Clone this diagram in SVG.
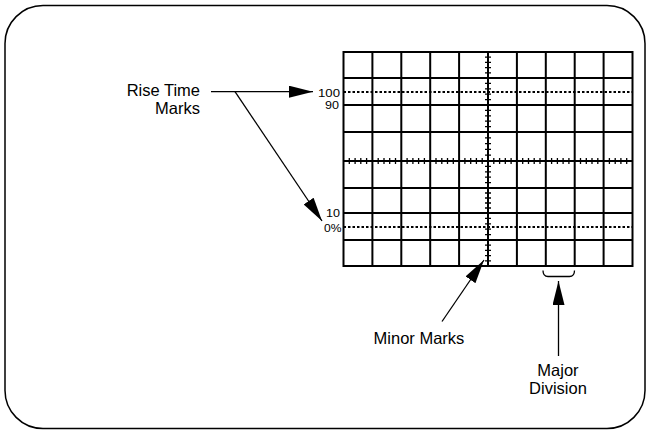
<svg xmlns="http://www.w3.org/2000/svg" width="647" height="432" viewBox="0 0 647 432">
<style>
.grid{stroke:#000;stroke-width:2;fill:none}
.dot{stroke:#000;stroke-width:2;stroke-dasharray:2.5 2;fill:none}
.tick{stroke:#000;stroke-width:1.3}
.con{stroke:#000;stroke-width:1.3;fill:none}
.lbl{font-family:"Liberation Sans",Arial,sans-serif;font-size:16.5px;fill:#000}
.sm{font-family:"Liberation Sans",Arial,sans-serif;font-size:10.5px;fill:#000}
</style>
<defs>
<marker id="ahL" viewBox="0 0 24 12" refX="24" refY="6" markerWidth="24" markerHeight="12" markerUnits="userSpaceOnUse" orient="auto">
<path d="M0,0 L24,6 L0,12 Z" fill="#000"/>
</marker>
</defs>
<rect x="5" y="5.5" width="640" height="423" rx="38" ry="38" fill="#fff" stroke="#000" stroke-width="1.5"/>
<g id="graticule">
<rect class="grid" x="343.5" y="52" width="289" height="214" stroke-width="2.2"/>
<path class="grid" d="M372.4,52V266M401.3,52V266M430.2,52V266M459.1,52V266M488,52V266M516.9,52V266M545.8,52V266M574.7,52V266M603.6,52V266"/>
<path class="grid" d="M343.5,78H632.5M343.5,105H632.5M343.5,132H632.5M343.5,161H632.5M343.5,188H632.5M343.5,213H632.5M343.5,240H632.5"/>
<path class="dot" d="M343.5,92H632.5M343.5,227H632.5"/>
<path class="tick" d="M349.3,158V164M355.1,158V164M360.8,158V164M366.6,158V164M378.2,158V164M384,158V164M389.7,158V164M395.5,158V164M407.1,158V164M412.9,158V164M418.6,158V164M424.4,158V164M436,158V164M441.8,158V164M447.5,158V164M453.3,158V164M464.9,158V164M470.7,158V164M476.4,158V164M482.2,158V164M493.8,158V164M499.6,158V164M505.3,158V164M511.1,158V164M522.7,158V164M528.5,158V164M534.2,158V164M540,158V164M551.6,158V164M557.4,158V164M563.1,158V164M568.9,158V164M580.5,158V164M586.3,158V164M592,158V164M597.8,158V164M609.4,158V164M615.2,158V164M620.9,158V164M626.7,158V164"/>
<path class="tick" d="M485,57.2H491M485,62.4H491M485,67.6H491M485,72.8H491M485,83.4H491M485,88.8H491M485,94.2H491M485,99.6H491M485,110.4H491M485,115.8H491M485,121.2H491M485,126.6H491M485,137.8H491M485,143.6H491M485,149.4H491M485,155.2H491M485,166.4H491M485,171.8H491M485,177.2H491M485,182.6H491M485,193H491M485,198H491M485,203H491M485,208H491M485,218.4H491M485,223.8H491M485,229.2H491M485,234.6H491M485,245.2H491M485,250.4H491M485,255.6H491M485,260.8H491"/>
<text class="sm" x="318" y="96.5" textLength="22" lengthAdjust="spacingAndGlyphs">100</text>
<text class="sm" x="325" y="108.5" textLength="14" lengthAdjust="spacingAndGlyphs">90</text>
<text class="sm" x="326" y="217" textLength="14" lengthAdjust="spacingAndGlyphs">10</text>
<text class="sm" x="324" y="231.5" textLength="17.5" lengthAdjust="spacingAndGlyphs">0%</text>
</g>
<g id="rise-time-marks">
<text class="lbl" x="200" y="96" text-anchor="end">Rise Time</text>
<text class="lbl" x="200" y="114" text-anchor="end">Marks</text>
</g>
<g id="minor-marks">
<text class="lbl" x="419" y="344" text-anchor="middle">Minor Marks</text>
</g>
<g id="major-division">
<path class="con" d="M543,270.5 Q543,276.5 548,276.5 H569.5 Q574.5,276.5 574.5,270.5" stroke-width="1.5"/>
<text class="lbl" x="558" y="376" text-anchor="middle">Major</text>
<text class="lbl" x="558" y="394" text-anchor="middle">Division</text>
</g>
<g id="connectors">
<path class="con" d="M211,91.7H313" marker-end="url(#ahL)"/>
<path class="con" d="M235,91.7L322,221" marker-end="url(#ahL)"/>
<path class="con" d="M442,321.5L484,260" marker-end="url(#ahL)"/>
<path class="con" d="M558.5,356V281" marker-end="url(#ahL)"/>
</g>
</svg>
